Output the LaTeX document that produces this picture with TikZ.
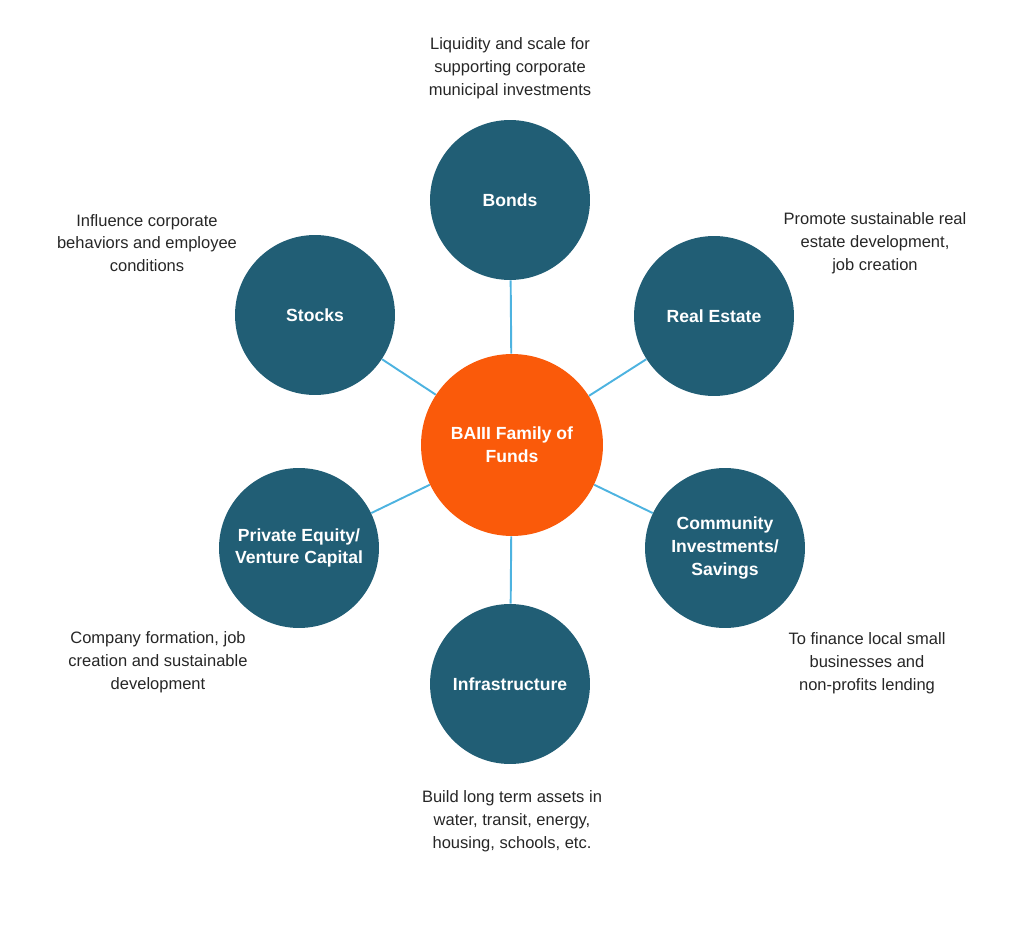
\documentclass[tikz,border=0pt]{standalone}
\usepackage{fontspec}
\setmainfont{Liberation Sans}
\usetikzlibrary{positioning}
\definecolor{my_teal}{RGB}{33, 94, 117}
\definecolor{my_orange}{RGB}{250, 90, 10}
\definecolor{my_blue}{RGB}{77, 179, 224}
\tikzset{
  fund/.style = {circle, draw=none, fill=my_teal, minimum size=3.2cm, text=white,
  align=center, font=\fontsize{10}{13}\selectfont\bfseries},
  hub/.style = {fund, fill=my_orange, minimum size=3.64cm},
  note/.style = {align=center, text=black!85, font=\fontsize{9.4}{13}\selectfont},
  link/.style = {draw=my_blue, line width=1.1pt}
}
\begin{document}
\begin{tikzpicture}[x=0.02cm, y=-0.02cm]
  \useasboundingbox (0,0) rectangle (1024,932);
  \node [hub] (hub) at (512,445) {BAIII Family of\\Funds};
  \node [fund] (bonds) at (510,200) {Bonds};
  \node [fund] (real) at (714,316) {Real Estate};
  \node [fund] (comm) at (725,548) {Community\\Investments/\\Savings};
  \node [fund] (infra) at (510,684) {Infrastructure};
  \node [fund] (pe) at (299,548) {Private Equity/\\Venture Capital};
  \node [fund] (stocks) at (315,315) {Stocks};
  \foreach \n in {bonds,real,comm,infra,pe,stocks}
    \draw [link] (hub) -- (\n);
  % descriptions
  \node [note] (bondsnote) at (510,68) {Liquidity and scale for\\supporting corporate\\municipal investments};
  \node [note] (stocksnote) at (147,243) {Influence corporate\\behaviors and employee\\conditions};
  \node [note] (realnote) at (875,243) {Promote sustainable real\\estate development,\\job creation};
  \node [note] (penote) at (158,662) {Company formation, job\\creation and sustainable\\development};
  \node [note] (commnote) at (867,663) {To finance local small\\businesses and\\non-profits lending};
  \node [note] (infranote) at (512,821) {Build long term assets in\\water, transit, energy,\\housing, schools, etc.};
\end{tikzpicture}
\end{document}
